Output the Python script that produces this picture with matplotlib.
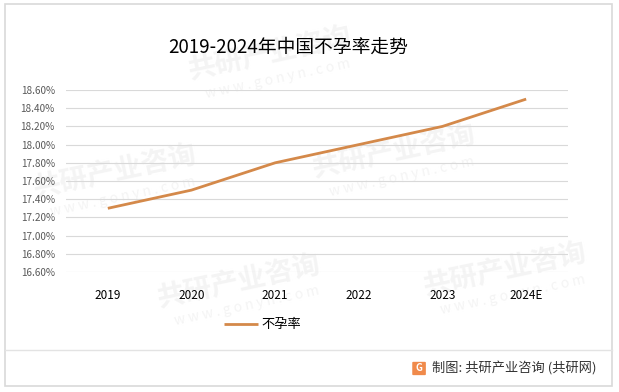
import matplotlib
matplotlib.use("Agg")
import matplotlib.pyplot as plt
from matplotlib.patches import Rectangle, FancyBboxPatch
from matplotlib.ticker import FuncFormatter

plt.rcParams['font.family'] = ['Noto Sans CJK SC', 'DejaVu Sans']

years = ['2019', '2020', '2021', '2022', '2023', '2024E']
rate = [17.30, 17.50, 17.80, 18.00, 18.20, 18.50]
yticks = [16.6, 16.8, 17.0, 17.2, 17.4, 17.6, 17.8, 18.0, 18.2, 18.4, 18.6]

fig = plt.figure(figsize=(6.19, 3.92), dpi=100)

# faint watermarks behind everything
for (x, y) in [(0.30, 0.80), (0.05, 0.50), (0.50, 0.55), (0.25, 0.22), (0.68, 0.25)]:
    fig.text(x, y, '共研产业咨询', fontsize=20, fontweight='bold', color='#f4f4f4',
             rotation=12, zorder=-5)
    fig.text(x + 0.03, y - 0.05, 'w w w . g o n y n . c o m', fontsize=10, color='#f4f4f4',
             rotation=12, zorder=-5)

ax = fig.add_axes([0.1066, 0.3061, 0.811, 0.4643])
ax.set_zorder(2)
ax.patch.set_alpha(0)
x = range(len(years))
ax.plot(x, rate, color='#D4894A', linewidth=2.0, label='不孕率', solid_capstyle='butt')
ax.set_xlim(-0.5, len(years) - 0.5)
ax.set_ylim(16.6, 18.6)
ax.set_yticks(yticks)
ax.yaxis.set_major_formatter(FuncFormatter(lambda v, p: f'{v:.2f}%'))
ax.set_xticks(list(x))
ax.set_xticklabels(years)
ax.grid(axis='y', color='#d9d9d9', linewidth=0.8)
for s in ax.spines.values():
    s.set_visible(False)
ax.tick_params(axis='both', length=0)
ax.tick_params(axis='y', labelsize=7.2, labelcolor='#595959', pad=8)
ax.tick_params(axis='x', labelsize=8.5, labelcolor='#000000', pad=12)

fig.legend(loc='center', bbox_to_anchor=(0.424, 0.171), frameon=False, fontsize=9.5,
           handlelength=2.6, handletextpad=0.2)

fig.text(0.466, 0.88, '2019-2024年中国不孕率走势', fontsize=13.5, ha='center', va='center')

# frame and footer
fig.patches.append(Rectangle((0.008, 0.015), 0.981, 0.975, transform=fig.transFigure,
                             fill=False, edgecolor='#d9d9d9', linewidth=1.2))
fig.add_artist(plt.Line2D([0.008, 0.989], [0.107, 0.107], transform=fig.transFigure,
                          color='#e3e3e3', linewidth=1))
fig.patches.append(FancyBboxPatch((0.668, 0.045), 0.018, 0.03, boxstyle='round,pad=0.002',
                                  transform=fig.transFigure, facecolor='#F08A4B',
                                  edgecolor='none'))
fig.text(0.677, 0.061, 'G', fontsize=7, color='white', fontweight='bold',
         ha='center', va='center')
fig.text(0.698, 0.061, '制图: 共研产业咨询 (共研网)', fontsize=9.5, color='#333333',
         va='center')

fig.savefig('out.png', dpi=100)
